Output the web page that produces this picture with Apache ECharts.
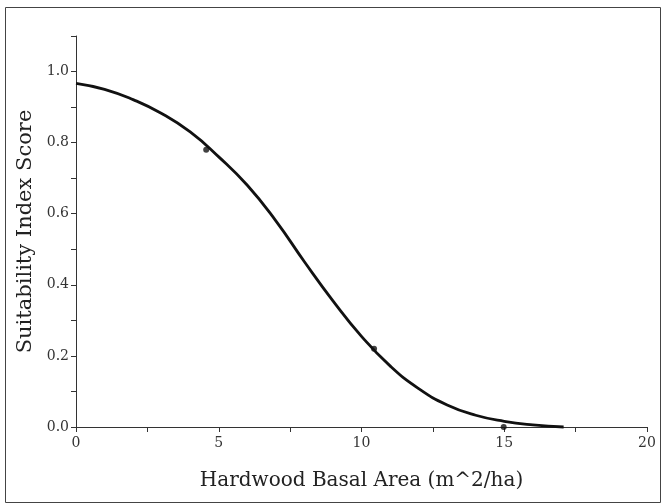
<!DOCTYPE html>
<html>
<head>
<meta charset="utf-8">
<script src="https://cdn.jsdelivr.net/npm/echarts@6/dist/echarts.min.js"></script>
<style>html,body{margin:0;padding:0;background:#fff;}#c{width:666px;height:504px;}</style>
</head>
<body>
<div id="c"></div>
<script>
// fitted curve
var curveX = [0, 1, 2, 3, 4, 5, 6, 7, 8, 9, 10, 11, 12, 13, 14, 15, 16, 17.08];
var curveY = [0.967, 0.950, 0.921, 0.882, 0.830, 0.760, 0.680, 0.580, 0.465, 0.355, 0.255, 0.172, 0.108, 0.062, 0.033, 0.016, 0.006, 0.0];
// observed points
var pointX = [4.56, 10.44, 14.98];
var pointY = [0.78, 0.22, 0.0];
var xTicks = [0, 5, 10, 15, 20];
var yTicks = [0.0, 0.2, 0.4, 0.6, 0.8, 1.0];
var xTitle = 'Hardwood Basal Area (m^2/ha)';
var yTitle = 'Suitability Index Score';

var curve = curveX.map(function (x, i) { return [x, curveY[i]]; });
var pts = pointX.map(function (x, i) { return [x, pointY[i]]; });
var font = 'DejaVu Serif';
var axisCol = '#333';

var chart = echarts.init(document.getElementById('c'), null, {renderer: 'canvas'});
chart.setOption({
  animation: false,
  backgroundColor: '#fff',
  graphic: [{
    type: 'rect', shape: {x: 5.5, y: 7.5, width: 655, height: 495},
    style: {fill: 'none', stroke: '#444', lineWidth: 1}, silent: true, z: -1
  }],
  grid: {left: 76, right: 19, top: 36, bottom: 77, containLabel: false},
  xAxis: {
    type: 'value', min: 0, max: 20, interval: 5,
    name: xTitle, nameLocation: 'middle', nameGap: 44,
    nameTextStyle: {fontFamily: font, fontSize: 20, color: '#222'},
    axisLine: {show: true, lineStyle: {color: axisCol, width: 1}},
    axisTick: {show: true, length: 5, lineStyle: {color: axisCol}},
    minorTick: {show: true, splitNumber: 2, length: 5, lineStyle: {color: axisCol}},
    axisLabel: {fontFamily: font, fontSize: 14, color: '#333', margin: 9,
      formatter: function (v) { return xTicks.indexOf(v) >= 0 ? String(v) : ''; }},
    splitLine: {show: false}
  },
  yAxis: {
    type: 'value', min: 0, max: 1.1, interval: 0.2,
    name: yTitle, nameLocation: 'middle', nameGap: 34, nameRotate: 90,
    nameTextStyle: {fontFamily: font, fontSize: 21, color: '#222'},
    axisLine: {show: true, onZero: false, lineStyle: {color: axisCol, width: 1}},
    axisTick: {show: true, length: 5, lineStyle: {color: axisCol}},
    minorTick: {show: true, splitNumber: 2, length: 5, lineStyle: {color: axisCol}},
    axisLabel: {fontFamily: font, fontSize: 14, color: '#333', margin: 7, showMaxLabel: false,
      formatter: function (v) {
        for (var i = 0; i < yTicks.length; i++) if (Math.abs(yTicks[i] - v) < 1e-6) return yTicks[i].toFixed(1);
        return '';
      }},
    splitLine: {show: false}
  },
  series: [
    {type: 'line', data: curve, smooth: 0.5, showSymbol: false, symbol: 'none',
      lineStyle: {color: '#111', width: 2.8}, z: 3, clip: false},
    {type: 'scatter', data: pts, symbol: 'circle', symbolSize: 6,
      itemStyle: {color: '#111'}, z: 4, clip: false}
  ]
});
</script>
</body>
</html>
